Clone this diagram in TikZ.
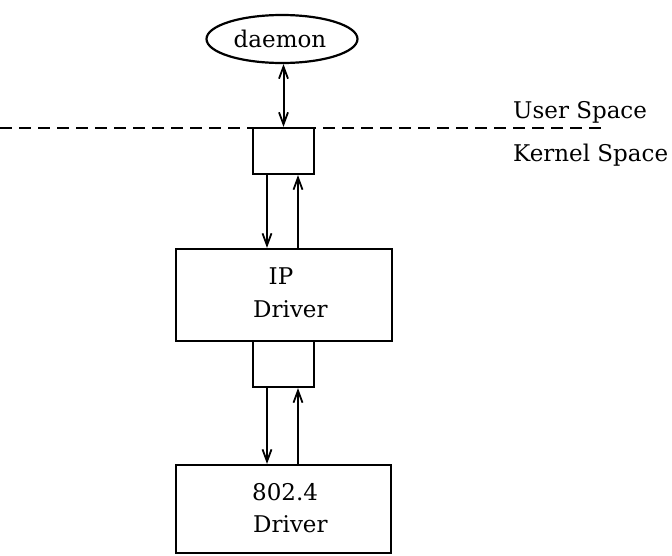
\documentclass[tikz,border=0pt]{standalone}
\usepackage{fontspec}
\setmainfont{DejaVu Serif}
\usetikzlibrary{shapes.geometric,arrows.meta}
\tikzset{
  x=1pt,y=1pt,
  line/.style={line width=2.2pt},
  box/.style={draw,line width=2.2pt,rectangle,inner sep=0pt},
  lbl/.style={inner sep=0pt,font=\fontsize{23}{27}\selectfont},
  tip/.style={Straight Barb[length=12pt,width=9pt,line width=1.8pt]},
  arr/.style={line width=2pt,-{Straight Barb[length=12pt,width=9pt,line width=1.8pt]}},
  darr/.style={line width=2pt,{Straight Barb[length=12pt,width=9pt,line width=1.8pt]}-{Straight Barb[length=12pt,width=9pt,line width=1.8pt]}}
}
\begin{document}
\begin{tikzpicture}
\useasboundingbox (0,0) rectangle (672,-555);
% nodes
\node[draw,ellipse,line width=2.2pt,minimum width=151pt,minimum height=48pt,inner sep=0pt] (daemon) at (282,-39) {};
\node[lbl,anchor=base] (daemontext) at (280,-47) {daemon};
\node[box,minimum width=61pt,minimum height=46pt] (box1) at (283.5,-151) {};
\node[box,minimum width=216pt,minimum height=92pt] (ip) at (284,-295) {};
\node[box,minimum width=61pt,minimum height=46pt] (box2) at (283.5,-364) {};
\node[box,minimum width=215pt,minimum height=88pt] (eth) at (283.5,-509) {};
% texts
\node[lbl,anchor=base] (iptext) at (281,-284) {IP};
\node[lbl,anchor=base west] (ipdrv) at (253,-317) {Driver};
\node[lbl,anchor=base west] (ethtext) at (252,-500) {802.4};
\node[lbl,anchor=base west] (ethdrv) at (253,-532) {Driver};
\node[lbl,anchor=base west] (user) at (513,-118) {User Space};
\node[lbl,anchor=base west] (kernel) at (513,-161) {Kernel Space};
% dashed line
\coordinate (dl) at (0,-128);
\coordinate (dr) at (606,-128);
\draw[line,dash pattern=on 12pt off 7pt] (dl) -- (dr);
% connectors
\draw[darr] (box1.north |- daemon.south) -- (box1.north);
\draw[arr] ([xshift=-16.5pt]box1.south) -- ([xshift=-16.5pt]box1.south |- ip.north);
\draw[arr] ([xshift=14.5pt]box1.south |- ip.north) -- ([xshift=14.5pt]box1.south);
\draw[arr] ([xshift=-16.5pt]box2.south) -- ([xshift=-16.5pt]box2.south |- eth.north);
\draw[arr] ([xshift=14.5pt]box2.south |- eth.north) -- ([xshift=14.5pt]box2.south);
\end{tikzpicture}
\end{document}
